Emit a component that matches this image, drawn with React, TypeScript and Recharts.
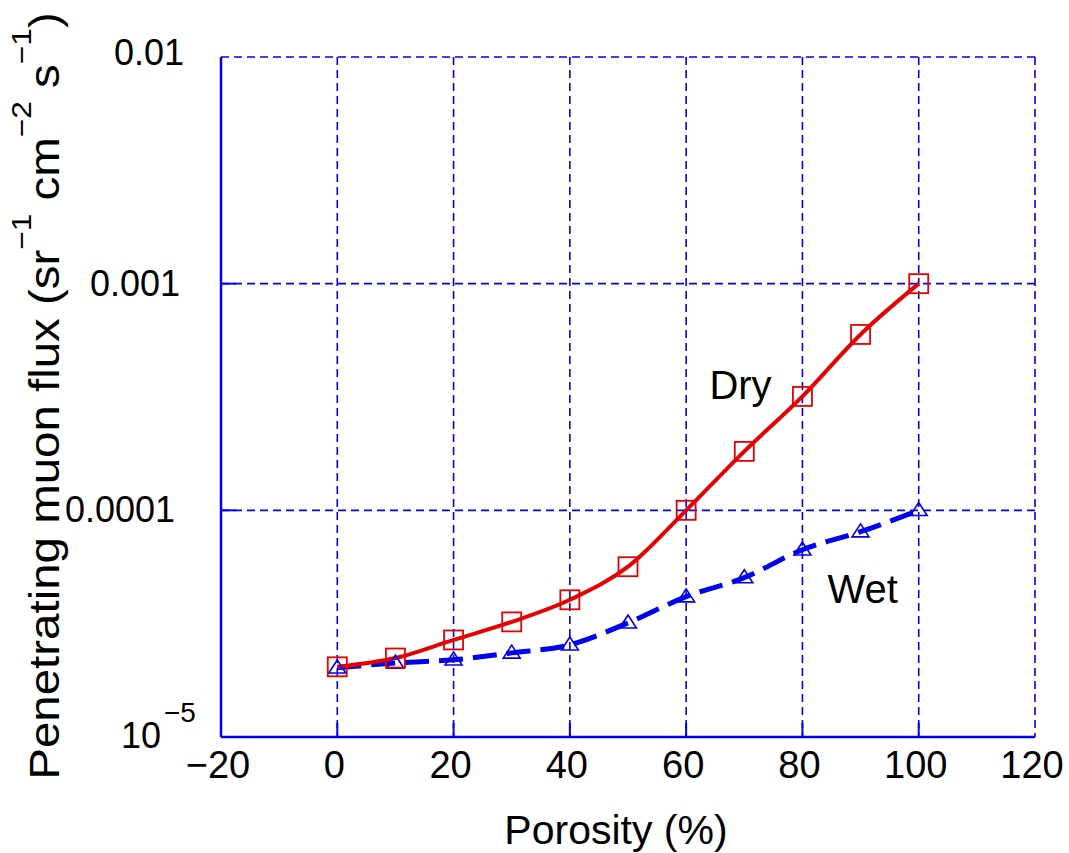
import React from "react";
import {
  LineChart,
  Line,
  XAxis,
  YAxis,
  CartesianGrid,
  ReferenceDot,
} from "recharts";

const porosity = [0, 10, 20, 30, 40, 50, 60, 70, 80, 90, 100];
const dryFlux = [2.04e-5, 2.23e-5, 2.68e-5, 3.22e-5, 4.03e-5, 5.64e-5, 1.0e-4, 1.82e-4, 3.18e-4, 5.97e-4, 1.0e-3];
const wetFlux = [2.02e-5, 2.12e-5, 2.19e-5, 2.35e-5, 2.55e-5, 3.19e-5, 4.16e-5, 5.05e-5, 6.7e-5, 8.05e-5, 1.0e-4];
const xTicks = [-20, 0, 20, 40, 60, 80, 100, 120];
const xTickLabels = ["\u221220", "0", "20", "40", "60", "80", "100", "120"];
const yTicks = [1e-5, 1e-4, 1e-3, 1e-2];
const yTickLabels = ["10", "0.0001", "0.001", "0.01"];
const seriesNames = ["Dry", "Wet"];

const rows = porosity.map((p, i) => ({ p, dry: dryFlux[i], wet: wetFlux[i] }));

const BLUE = "#0000ee";
const RED = "#e60000";
const FONT = "'Liberation Sans', Arial, sans-serif";

const XTick = (props: any) => {
  const { x, y, payload } = props;
  const idx = xTicks.indexOf(payload.value);
  const label = xTickLabels[idx] ?? String(payload.value);
  const inner = payload.value !== -20 && payload.value !== 120;
  return (
    <g>
      {inner && <line x1={x} y1={y} x2={x} y2={y - 14} stroke={BLUE} strokeWidth={2} />}
      <text x={x - 3} y={y + 41} textAnchor="middle" fontFamily={FONT} fontSize={38} fill="#000">
        {label}
      </text>
    </g>
  );
};

const XTopTick = (props: any) => {
  const { x, y, payload } = props;
  const inner = payload.value !== -20 && payload.value !== 120;
  return inner ? <line x1={x} y1={y} x2={x} y2={y + 14} stroke={BLUE} strokeWidth={2} /> : <g />;
};

const YTick = (props: any) => {
  const { x, y, payload } = props;
  const idx = yTicks.findIndex((t) => Math.abs(t - payload.value) / t < 1e-6);
  const label = yTickLabels[idx] ?? String(payload.value);
  const inner = idx === 1 || idx === 2;
  if (idx === 0) {
    return (
      <g>
        <text x={x - 60} y={y + 11} textAnchor="end" fontFamily={FONT} fontSize={36} fill="#000">
          {label}
        </text>
        <text x={x - 57} y={y - 15} textAnchor="start" fontFamily={FONT} fontSize={28} fill="#000">
          {"\u22125"}
        </text>
      </g>
    );
  }
  const endX = idx === 3 ? x - 37 : idx === 2 ? x - 41 : x - 46;
  return (
    <g>
      {inner && <line x1={x} y1={y} x2={x + 15} y2={y} stroke={BLUE} strokeWidth={2} />}
      <text x={endX} y={y + 12 - (idx === 3 ? 4 : 0)} textAnchor="end" fontFamily={FONT} fontSize={36} fill="#000">
        {label}
      </text>
    </g>
  );
};

const YRightTick = (props: any) => {
  const { x, y, payload } = props;
  const idx = yTicks.findIndex((t) => Math.abs(t - payload.value) / t < 1e-6);
  const inner = idx === 1 || idx === 2;
  return inner ? <line x1={x} y1={y} x2={x - 20} y2={y} stroke={BLUE} strokeWidth={2} /> : <g />;
};

const YLabel = () => (
  <text
    transform="translate(59, 396) rotate(-90) scale(1.13, 1)"
    textAnchor="middle"
    fontFamily={FONT}
    fontSize={42}
    fill="#000"
  >
    <tspan>Penetrating muon flux (sr</tspan>
    <tspan fontSize={28} dy={-28}>{"\u22121"}</tspan>
    <tspan dy={28}> cm</tspan>
    <tspan fontSize={28} dy={-28}>{"\u22122"}</tspan>
    <tspan dy={28}> s</tspan>
    <tspan fontSize={28} dy={-28}>{"\u22121"}</tspan>
    <tspan dy={28}>)</tspan>
  </text>
);

const XLabel = (props: any) => {
  const { viewBox } = props;
  const cx = viewBox.x + viewBox.width / 2 - 12;
  return (
    <text x={cx} y={viewBox.y + 107} textAnchor="middle" fontFamily={FONT} fontSize={41} fill="#000">
      Porosity (%)
    </text>
  );
};

const Square = (props: any) => {
  const { cx, cy } = props;
  if (cx == null || cy == null) return <g />;
  const s = 9.5;
  return <rect x={cx - s} y={cy - s} width={2 * s} height={2 * s} fill="none" stroke={RED} strokeWidth={1.8} />;
};

const Triangle = (props: any) => {
  const { cx, cy } = props;
  if (cx == null || cy == null) return <g />;
  const w = 8.5;
  const h = 13;
  return (
    <polygon
      points={`${cx},${cy - h * 0.6} ${cx - w},${cy + h * 0.4} ${cx + w},${cy + h * 0.4}`}
      fill="none"
      stroke={BLUE}
      strokeWidth={1.6}
    />
  );
};

const TextMark = (label: string) => (props: any) => {
  const { cx, cy } = props;
  return (
    <text x={cx} y={cy} textAnchor="start" fontFamily={FONT} fontSize={40} fill="#000">
      {label}
    </text>
  );
};

export default function App() {
  return (
    <div style={{ position: "absolute", left: 0, top: 0, width: 1069, height: 853, background: "#fff" }}>
      <LineChart width={1069} height={853} data={rows} margin={{ top: 57, right: 34, left: 0, bottom: 0 }}>
        <CartesianGrid stroke={BLUE} strokeWidth={1.6} strokeDasharray="8 5" />
        <XAxis
          dataKey="p"
          type="number"
          domain={[-20, 120]}
          ticks={xTicks}
          interval={0}
          height={116}
          tickSize={0}
          tickMargin={0}
          tickLine={false}
          axisLine={{ stroke: BLUE, strokeWidth: 2.5 }}
          tick={<XTick />}
          allowDataOverflow
          label={<XLabel />}
        />
        <XAxis
          xAxisId="top"
          orientation="top"
          dataKey="p"
          type="number"
          domain={[-20, 120]}
          ticks={xTicks}
          interval={0}
          height={0}
          tickSize={0}
          tickMargin={0}
          tickLine={false}
          axisLine={{ stroke: BLUE, strokeWidth: 2.5 }}
          tick={<XTopTick />}
          allowDataOverflow
        />
        <YAxis
          type="number"
          scale="log"
          domain={[1e-5, 1e-2]}
          ticks={yTicks}
          interval={0}
          width={221}
          tickSize={0}
          tickMargin={0}
          tickLine={false}
          axisLine={{ stroke: BLUE, strokeWidth: 2.5 }}
          tick={<YTick />}
          allowDataOverflow
          label={<YLabel />}
        />
        <YAxis
          yAxisId="right"
          orientation="right"
          type="number"
          scale="log"
          domain={[1e-5, 1e-2]}
          ticks={yTicks}
          interval={0}
          width={0}
          tickSize={0}
          tickMargin={0}
          tickLine={false}
          axisLine={{ stroke: BLUE, strokeWidth: 2.5 }}
          tick={<YRightTick />}
          allowDataOverflow
        />
        <Line
          dataKey="wet"
          name={seriesNames[1]}
          type="monotone"
          stroke={BLUE}
          strokeWidth={5}
          strokeDasharray="24 10"
          dot={<Triangle />}
          activeDot={false}
          isAnimationActive={false}
        />
        <Line
          dataKey="dry"
          name={seriesNames[0]}
          type="monotone"
          stroke={RED}
          strokeWidth={4}
          dot={<Square />}
          activeDot={false}
          isAnimationActive={false}
        />
        <ReferenceDot x={64} y={3.1e-4} r={0} shape={TextMark(seriesNames[0])} />
        <ReferenceDot x={84.3} y={3.9e-5} r={0} shape={TextMark(seriesNames[1])} />
      </LineChart>
    </div>
  );
}
